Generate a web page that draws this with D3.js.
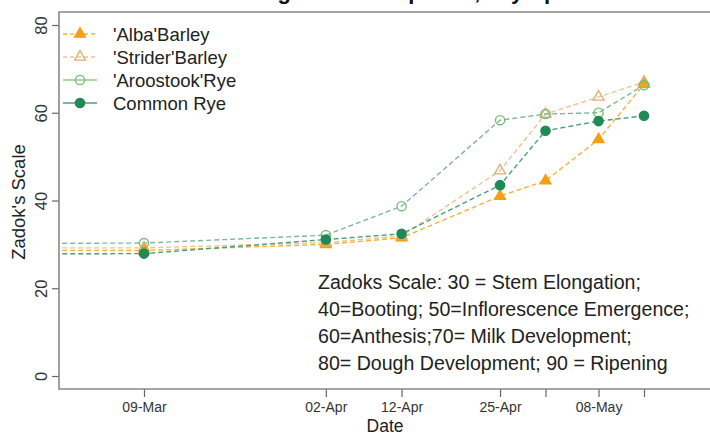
<!DOCTYPE html>
<html>
<head>
<meta charset="utf-8">
<script src="https://cdn.jsdelivr.net/npm/d3@7"></script>
<style>
  html, body { margin: 0; padding: 0; background: #fff; overflow: hidden; }
  svg { display: block; font-family: "Liberation Sans", Arial, sans-serif; }
</style>
</head>
<body>
<div id="chart"></div>
<script>
// sampling dates (the first one lies left of the visible window)
const sampleDates = ["2014-11-20", "2015-03-09", "2015-04-02", "2015-04-12",
                     "2015-04-25", "2015-05-01", "2015-05-08", "2015-05-14"];
const albaBarley    = [28.6, 28.6, 30.0, 31.5, 41.0, 44.5, 53.9, 66.5];
const striderBarley = [29.3, 29.2, 30.4, 31.9, 46.8, 59.7, 63.6, 67.0];
const aroostookRye  = [29.8, 30.3, 32.1, 38.7, 58.3, 59.7, 60.0, 66.3];
const commonRye     = [27.4, 27.9, 31.1, 32.4, 43.5, 55.9, 58.1, 59.3];

const xTickDates  = ["2015-03-09", "2015-04-02", "2015-04-12", "2015-04-25",
                     "2015-05-01", "2015-05-08", "2015-05-14"];
const xTickLabels = ["09-Mar", "02-Apr", "12-Apr", "25-Apr", "", "08-May", ""];
const yTicks = [0, 20, 40, 60, 80];

const noteLines = [
  "Zadoks Scale:  30 = Stem Elongation;",
  "40=Booting; 50=Inflorescence Emergence;",
  "60=Anthesis;70= Milk Development;",
  "80= Dough Development; 90 = Ripening"
];

const W = 710, H = 435;
const box = {left: 59, top: 12, right: 760, bottom: 389};
const parse = d3.timeParse("%Y-%m-%d");

const series = [
  {name: "'Alba'Barley", values: albaBarley, line: "#f6b23e", mark: "tri",
   fill: "#f59f12", stroke: "#f59f12", legendDash: true},
  {name: "'Strider'Barley", values: striderBarley, line: "#efc391", mark: "tri",
   fill: "none", stroke: "#e0ab74", legendDash: true},
  {name: "'Aroostook'Rye", values: aroostookRye, line: "#7fb79c", mark: "circle",
   fill: "none", stroke: "#72c172", legendLine: "#8bcb8b", legendDash: false},
  {name: "Common Rye", values: commonRye, line: "#4f9c7c", mark: "circle",
   fill: "#1f8a56", stroke: "#1f8a56", legendLine: "#4f9f7f", legendDash: false}
];

const svg = d3.select("#chart").append("svg")
    .attr("width", W).attr("height", H);

const x = d3.scaleTime()
    .domain([parse("2015-03-09"), parse("2015-05-14")])
    .range([144, 644]);
const y = d3.scaleLinear().domain([0, 80]).range([376, 25]);

svg.append("defs").append("clipPath").attr("id", "plotclip")
  .append("rect")
    .attr("x", box.left).attr("y", box.top)
    .attr("width", box.right - box.left).attr("height", box.bottom - box.top);

// cropped title, only its descenders peek in at the top
const title = svg.append("text")
    .attr("y", -1)
    .attr("dominant-baseline", "alphabetic")
    .attr("font-size", 22).attr("font-weight", "bold").attr("fill", "#111")
    .text("Cereal Growth Stage of Development, Dry Spell");
const gIdx = title.text().indexOf("ge of");
const gOff = title.node().getSubStringLength(0, gIdx + 1) - 6;
title.attr("x", 285 - gOff);

// axes
const xAxis = svg.append("g")
    .attr("transform", "translate(0," + box.bottom + ")")
    .call(d3.axisBottom(x)
      .tickValues(xTickDates.map(parse))
      .tickSize(8)
      .tickPadding(5)
      .tickFormat((d, i) => xTickLabels[i]));
xAxis.select(".domain").remove();
xAxis.selectAll("line").attr("stroke", "#666").attr("stroke-width", 1.2);
xAxis.selectAll("text").attr("font-size", 14).attr("fill", "#333")
    .attr("font-family", "Liberation Sans, Arial, sans-serif");

const yAxis = svg.append("g")
    .attr("transform", "translate(" + box.left + ",0)")
    .call(d3.axisLeft(y).tickValues(yTicks).tickSize(7));
yAxis.select(".domain").remove();
yAxis.selectAll("line").attr("stroke", "#666").attr("stroke-width", 1.2);
yAxis.selectAll("text")
    .attr("x", 0).attr("dy", null)
    .attr("transform", "translate(-18,0) rotate(-90)")
    .attr("text-anchor", "middle")
    .attr("dominant-baseline", "central")
    .attr("font-size", 16.5).attr("fill", "#333")
    .attr("font-family", "Liberation Sans, Arial, sans-serif");

// plot box
svg.append("path")
    .attr("d", "M" + box.right + "," + box.top + "H" + box.left +
               "V" + box.bottom + "H" + box.right)
    .attr("fill", "none").attr("stroke", "#888").attr("stroke-width", 1.6);

svg.append("text")
    .attr("transform", "translate(18.5,202) rotate(-90)")
    .attr("text-anchor", "middle").attr("dominant-baseline", "central")
    .attr("font-size", 18.5).attr("fill", "#222")
    .text("Zadok's Scale");

svg.append("text")
    .attr("x", 385).attr("y", 432)
    .attr("text-anchor", "middle")
    .attr("font-size", 17.5).attr("fill", "#222")
    .text("Date");

// series
const plot = svg.append("g").attr("clip-path", "url(#plotclip)");
const line = d3.line()
    .x((d, i) => x(parse(sampleDates[i])))
    .y(d => y(d));
const tri = d3.symbol().type(d3.symbolTriangle).size(52);

function drawMark(g, s, cx, cy) {
  if (s.mark === "tri") {
    g.append("path").attr("d", tri())
      .attr("transform", "translate(" + cx + "," + cy + ")")
      .attr("fill", s.fill).attr("stroke", s.stroke).attr("stroke-width", 1.3);
  } else {
    g.append("circle").attr("cx", cx).attr("cy", cy).attr("r", 4.6)
      .attr("fill", s.fill).attr("stroke", s.stroke).attr("stroke-width", 1.4);
  }
}

series.forEach(s => {
  plot.append("path")
      .attr("d", line(s.values))
      .attr("fill", "none").attr("stroke", s.line)
      .attr("stroke-width", 1.4).attr("stroke-dasharray", "5,3");
});
series.forEach(s => {
  s.values.forEach((v, i) => {
    drawMark(plot, s, x(parse(sampleDates[i])), y(v));
  });
});

// legend
const legend = svg.append("g");
series.forEach((s, i) => {
  const ly = 34 + i * 23;
  legend.append("line")
      .attr("x1", 63).attr("x2", 97).attr("y1", ly).attr("y2", ly)
      .attr("stroke", s.legendLine || s.line).attr("stroke-width", 1.4)
      .attr("stroke-dasharray", s.legendDash ? "4,3" : null);
  drawMark(legend, s, 80, ly);
  legend.append("text")
      .attr("x", 113).attr("y", ly)
      .attr("dominant-baseline", "central")
      .attr("font-size", 18.5).attr("fill", "#222")
      .text(s.name);
});

// Zadoks scale note
svg.append("g").selectAll("text")
  .data(noteLines)
  .enter().append("text")
    .attr("x", 318)
    .attr("y", (d, i) => 282 + i * 27)
    .attr("dominant-baseline", "central")
    .attr("font-size", 19.6).attr("fill", "#222")
    .text(d => d);
</script>
</body>
</html>
